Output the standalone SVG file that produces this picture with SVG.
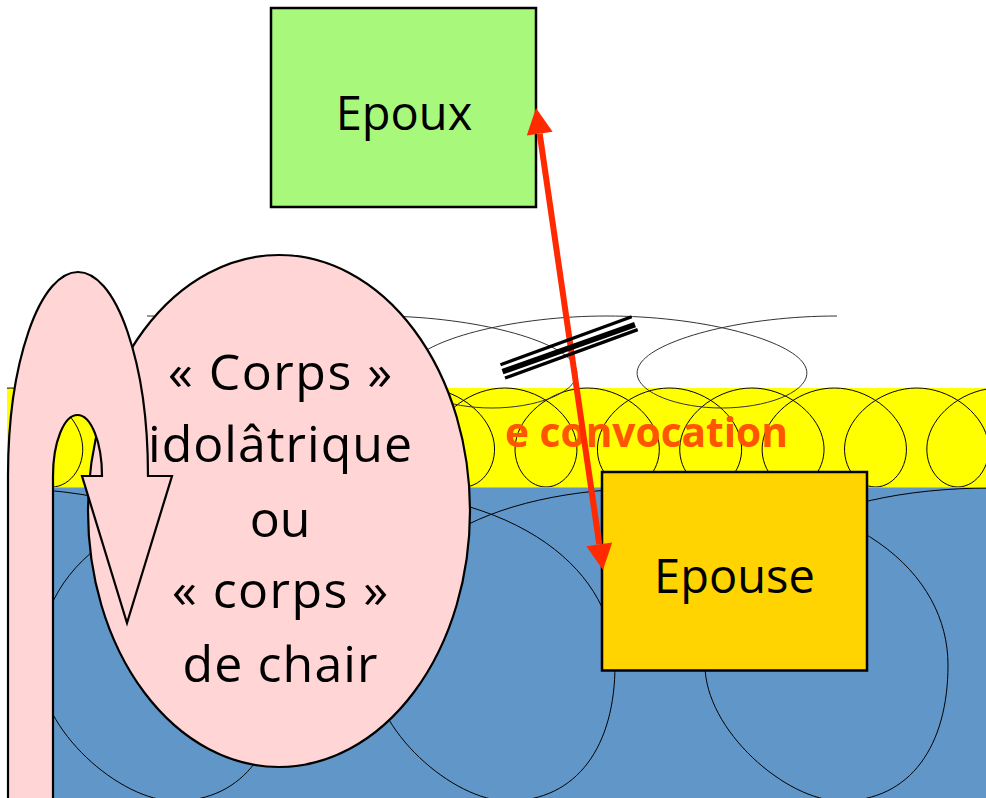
<svg xmlns="http://www.w3.org/2000/svg" xmlns:xlink="http://www.w3.org/1999/xlink" width="986" height="798" viewBox="0 0 986 798">
<style>
.coil{fill:none;stroke:#000;stroke-width:1}
.coilw{fill:none;stroke:#333;stroke-width:1}
.box{stroke:#000;stroke-width:2.5}
.lbl{font-family:"Open Sans","Liberation Sans",sans-serif;fill:#000;text-anchor:middle}
.pink{fill:#FFD5D5;stroke:#000;stroke-width:2.2}
.bar{stroke:#000;fill:none;stroke-linecap:butt}
</style>
<defs>
<clipPath id="clipY"><rect x="7" y="387" width="979" height="100.5"/></clipPath>
<clipPath id="clipB"><rect x="7" y="487.5" width="979" height="311"/></clipPath>
<path id="ycoil" d="M0,388 C33.04,388 63.73,411.58 70.59,437.5 C77.45,463.42 60.51,487 41.19,487 C21.87,487 4.92,463.42 11.78,437.5 C18.64,411.58 49.33,388 82.37,388"/>
<path id="bcoil" d="M0,488 C200,488 288.5,575 288.5,665 C288.5,745 251.5,801 181.5,801 C126.5,801 45.5,730 45.5,665 C45.5,555 153,488 333,488"/>
<path id="wcoil" d="M0,316 C91.42,316 176.33,337.91 195.49,362 C214.65,386.09 168.07,408 114.98,408 C61.89,408 15.31,386.09 34.47,362 C53.63,337.91 138.58,316 230,316"/>
</defs>
<rect x="0" y="0" width="986" height="798" fill="#fff"/>
<g id="band-convocation">
<rect x="7" y="388" width="979" height="100" fill="#FFFF00"/>
<g class="coil" clip-path="url(#clipY)">
<use xlink:href="#ycoil" x="-71.8"/><use xlink:href="#ycoil" x="10.6"/><use xlink:href="#ycoil" x="93"/><use xlink:href="#ycoil" x="175.3"/><use xlink:href="#ycoil" x="257.7"/><use xlink:href="#ycoil" x="340.1"/><use xlink:href="#ycoil" x="422.4"/><use xlink:href="#ycoil" x="504.8"/><use xlink:href="#ycoil" x="587.2"/><use xlink:href="#ycoil" x="669.5"/><use xlink:href="#ycoil" x="751.9"/><use xlink:href="#ycoil" x="834.3"/><use xlink:href="#ycoil" x="916.6"/>
</g>
</g>
<g id="band-chair">
<rect x="7" y="487.5" width="979" height="311" fill="#6196C8"/>
<g class="coil" clip-path="url(#clipB)">
<use xlink:href="#bcoil" x="-6.5"/><use xlink:href="#bcoil" x="326.5"/><use xlink:href="#bcoil" x="659.5"/>
</g>
</g>
<g id="coil-sky" class="coilw">
<use xlink:href="#wcoil" x="147"/><use xlink:href="#wcoil" x="377"/><use xlink:href="#wcoil" x="607"/>
</g>
<g id="label-convocation">
<text x="505" y="447" font-family="'Open Sans','Liberation Sans',sans-serif" font-weight="700" font-size="41.5" fill="#FF5500" textLength="283" lengthAdjust="spacingAndGlyphs">e convocation</text>
</g>
<g id="epoux">
<rect class="box" x="271" y="8" width="265" height="199" fill="#A8F97B"/>
<text class="lbl" x="404" y="129.5" font-size="47">Epoux</text>
</g>
<g id="epouse">
<rect class="box" x="602" y="472" width="265" height="198.5" fill="#FFD400"/>
<text class="lbl" x="734.5" y="593" font-size="47">Epouse</text>
</g>
<g id="corps">
<ellipse class="pink" cx="279" cy="511" rx="191" ry="256"/>
<path id="uturn-arrow" class="pink" d="M8,800 L8,476 A70,204 0 0 1 148,476 L172,476 L127,623 L82,476 L102,476 A24.5,61 0 0 0 53,476 L53,800 Z"/>
<g class="lbl" font-size="50">
<text x="280" y="390" textLength="224">« Corps »</text>
<text x="280" y="462" textLength="264">idolâtrique</text>
<text x="280" y="537">ou</text>
<text x="280" y="608" textLength="216">« corps »</text>
<text x="280" y="682" textLength="195">de chair</text>
</g>
</g>
<g id="connectors">
<g id="link-epoux-epouse" fill="#FF2A00">
<line x1="539.7" y1="133.7" x2="599.3" y2="544.3" stroke="#FF2A00" stroke-width="6"/>
<polygon points="536,108 552.6,131.8 526.8,135.6"/>
<polygon points="603,570 612.2,542.4 586.4,546.2"/>
</g>
<g id="barrier" class="bar">
<line x1="500.5" y1="364.8" x2="631.7" y2="316.8" stroke-width="3.3"/>
<line x1="502.5" y1="371.7" x2="635" y2="324.7" stroke-width="5.6"/>
<line x1="505" y1="378" x2="637.7" y2="329.6" stroke-width="3.3"/>
</g>
</g>
</svg>
